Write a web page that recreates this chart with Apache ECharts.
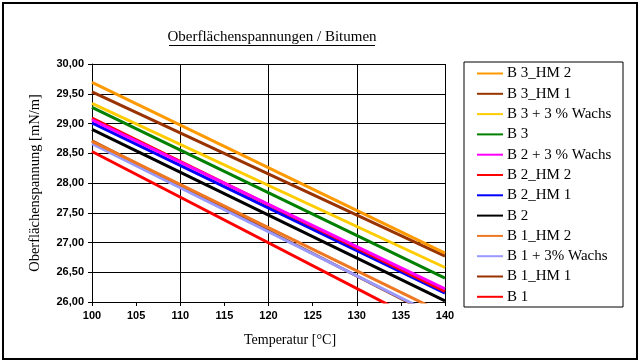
<!DOCTYPE html>
<html><head><meta charset="utf-8">
<script src="https://cdn.jsdelivr.net/npm/echarts@6/dist/echarts.min.js"></script>
<style>html,body{margin:0;padding:0;background:#fff}#c{width:641px;height:364px}</style>
</head><body><div id="c"></div>
<script>
const temps = [100, 140];
const seriesNames = ['B 3_HM 2','B 3_HM 1','B 3 + 3 % Wachs','B 3','B 2 + 3 % Wachs','B 2_HM 2','B 2_HM 1','B 2','B 1_HM 2','B 1 + 3% Wachs','B 1_HM 1','B 1'];
const b3hm2 = [29.69, 26.82];
const b3hm1 = [29.53, 26.77];
const b3w   = [29.34, 26.58];
const b3    = [29.27, 26.40];
const b2w   = [29.06, 26.22];
const b2hm2 = [29.09, 26.18];
const b2hm1 = [29.01, 26.15];
const b2    = [28.90, 26.02];
const b1hm2 = [28.70, 25.80];
const b1w   = [28.66, 25.70];
const b1hm1 = [28.71, 25.68];
const b1    = [28.53, 25.46];
const values = [b3hm2,b3hm1,b3w,b3,b2w,b2hm2,b2hm1,b2,b1hm2,b1w,b1hm1,b1];
const colors = ['#FF9900','#993300','#FFCC00','#008000','#FF00FF','#FF0000','#0000FF','#000000','#EE7722','#9999FF','#993300','#FF0000'];

const series = [];
for (let i = values.length - 1; i >= 0; i--) {
  series.push({
    name: seriesNames[i], type: 'line', symbol: 'none', clip: true,
    data: temps.map((t, k) => [t, values[i][k]]),
    lineStyle: {width: 3, color: colors[i]}, itemStyle: {color: colors[i]},
    animation: false
  });
}
const chart = echarts.init(document.getElementById('c'));
const tickFont = {fontFamily: 'Liberation Sans, Arial', fontWeight: 'bold', fontSize: 11, color: '#000'};
const serif = '"Liberation Serif", "Times New Roman"';
chart.setOption({
  backgroundColor: '#fff',
  animation: false,
  grid: {left: 92, right: 196, top: 64, bottom: 62},
  xAxis: [{
    type: 'value', min: 100, max: 140, interval: 5,
    axisLine: {lineStyle: {color: '#000', width: 1}},
    axisTick: {show: true, length: 4, lineStyle: {color: '#000'}},
    axisLabel: Object.assign({margin: 8}, tickFont),
    splitLine: {show: false}
  },{
    type: 'value', min: 100, max: 140, interval: 10, position: 'bottom',
    axisLine: {show: false}, axisTick: {show: false}, axisLabel: {show: false},
    splitLine: {show: true, lineStyle: {color: '#000', width: 1}}
  }],
  yAxis: {
    type: 'value', min: 26, max: 30, interval: 0.5,
    axisLine: {show: true, lineStyle: {color: '#000'}},
    axisTick: {show: true, length: 4, lineStyle: {color: '#000'}},
    axisLabel: Object.assign({margin: 8, formatter: v => v.toFixed(2).replace('.', ',')}, tickFont),
    splitLine: {show: true, lineStyle: {color: '#000', width: 1}},
    name: 'Oberflächenspannung [mN/m]', nameLocation: 'middle', nameGap: 49,
    nameTextStyle: {fontFamily: serif, fontSize: 14.5, color: '#000'}
  },
  legend: {
    orient: 'vertical', left: 477, top: 66, padding: 0, itemWidth: 26, itemHeight: 14, itemGap: 5.3,
    data: seriesNames, icon: 'path://M0,6 L26,6 L26,8 L0,8 Z',
    textStyle: {fontFamily: serif, fontSize: 15, color: '#000', padding: [0,0,0,-1]},
    selectedMode: false
  },
  graphic: [
    {type: 'rect', shape: {x: 3, y: 3, width: 634, height: 356}, style: {fill: 'none', stroke: '#000', lineWidth: 2}, silent: true, z: 100},
    {type: 'rect', shape: {x: 464, y: 62, width: 159, height: 245}, style: {fill: 'none', stroke: '#000', lineWidth: 1}, silent: true},
    {type: 'text', x: 272, y: 37, style: {text: 'Oberflächenspannungen / Bitumen', font: '15px "Liberation Serif", "Times New Roman"', fill: '#000', textAlign: 'center', textVerticalAlign: 'middle'}},
    {type: 'line', shape: {x1: 169, y1: 45.5, x2: 375, y2: 45.5}, style: {stroke: '#000', lineWidth: 1}},
    {type: 'text', x: 290, y: 340, style: {text: 'Temperatur [°C]', font: '14px "Liberation Serif", "Times New Roman"', fill: '#000', textAlign: 'center', textVerticalAlign: 'middle'}}
  ],
  series: series
});
</script></body></html>
